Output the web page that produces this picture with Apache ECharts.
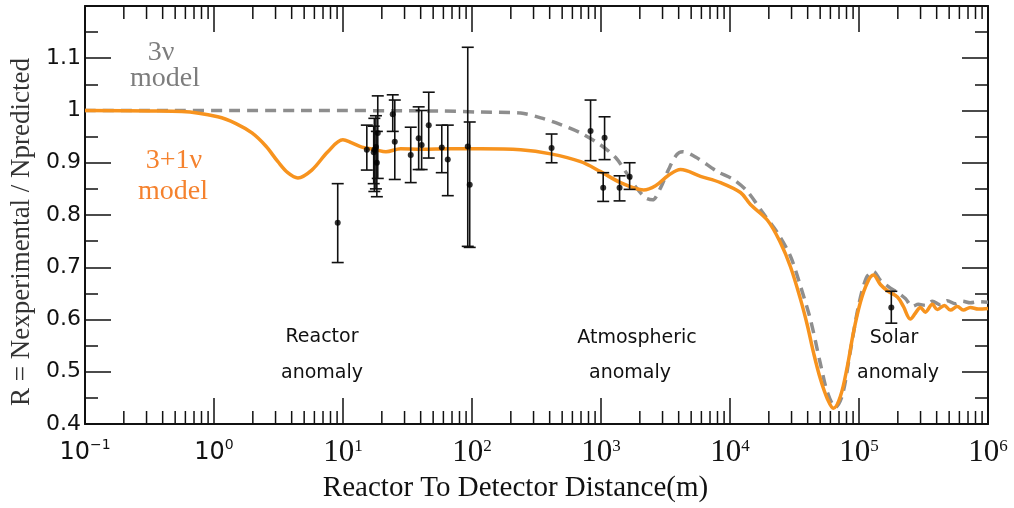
<!DOCTYPE html>
<html><head><meta charset="utf-8">
<script src="https://cdn.jsdelivr.net/npm/echarts@6/dist/echarts.min.js"></script>
<style>html,body{margin:0;padding:0;background:#fff}#c{width:1014px;height:508px}</style>
</head><body><div id="c"></div>
<script>
// 3+1 nu model curve (distance in m, ratio)
const distOrange = [0.1, 0.324, 0.564, 1.07, 1.48, 1.97, 2.52, 3.13, 3.73, 4.47, 5.73, 7.63, 9.97, 11.7, 14.0, 17.9, 21.5, 28.0, 40.1, 68.4, 117, 238, 407, 695, 993, 1418, 2138, 2649, 3339, 4136, 5907, 8442, 12060, 14410, 19520, 24620, 29420, 35170, 39850, 44360, 50240, 56910, 63350, 71770, 81310, 90500, 102500, 116200, 129300, 146500, 166000, 198400, 220800, 250100, 273500, 299000, 326900, 370300, 404900, 458700, 510500, 578400, 643800, 729400, 841100, 1000000];
const ratioOrange = [1.0, 0.999, 0.998, 0.988, 0.975, 0.957, 0.932, 0.902, 0.881, 0.871, 0.886, 0.921, 0.944, 0.938, 0.930, 0.925, 0.921, 0.927, 0.926, 0.927, 0.927, 0.925, 0.917, 0.902, 0.883, 0.862, 0.848, 0.856, 0.876, 0.887, 0.874, 0.862, 0.843, 0.820, 0.790, 0.747, 0.701, 0.639, 0.588, 0.537, 0.486, 0.448, 0.430, 0.453, 0.511, 0.575, 0.633, 0.671, 0.685, 0.667, 0.655, 0.643, 0.625, 0.601, 0.612, 0.623, 0.614, 0.629, 0.619, 0.627, 0.618, 0.625, 0.618, 0.623, 0.620, 0.621];
// 3 nu model curve
const distGray = [0.1, 4.71, 57.2, 117, 238, 341, 487, 695, 993, 1298, 1551, 1854, 2216, 2510, 2895, 3339, 3851, 4287, 5405, 8000, 10640, 13660, 17860, 23340, 29420, 35170, 42030, 50240, 57000, 65620, 74300, 85790, 98950, 114100, 129300, 146500, 175100, 198400, 228800, 259200, 288500, 326900, 370300, 427000, 483800, 558200, 632300, 729400, 841100, 1000000];
const ratioGray = [1.0, 1.0, 0.999, 0.997, 0.995, 0.986, 0.973, 0.957, 0.934, 0.910, 0.883, 0.854, 0.833, 0.829, 0.852, 0.887, 0.915, 0.921, 0.911, 0.883, 0.868, 0.845, 0.805, 0.766, 0.721, 0.664, 0.600, 0.515, 0.460, 0.432, 0.455, 0.540, 0.625, 0.680, 0.692, 0.675, 0.660, 0.652, 0.640, 0.625, 0.629, 0.627, 0.635, 0.628, 0.636, 0.630, 0.635, 0.632, 0.634, 0.633];
// measurements
const pointDist  = [9.1, 15.3, 17.3, 17.5, 18.0, 18.3, 18.6, 24.3, 25.2, 33.5, 38.6, 40.7, 46.2, 58.3, 64.9, 92.7, 96.0, 414, 830, 1066, 1040, 1393, 1667, 178000];
const pointRatio = [0.785, 0.925, 0.920, 0.925, 0.930, 0.900, 0.957, 0.993, 0.940, 0.915, 0.947, 0.934, 0.972, 0.929, 0.906, 0.931, 0.858, 0.928, 0.961, 0.948, 0.852, 0.852, 0.873, 0.623];
const pointLow   = [0.709, 0.886, 0.860, 0.845, 0.850, 0.835, 0.870, 0.960, 0.868, 0.862, 0.887, 0.887, 0.909, 0.881, 0.837, 0.740, 0.738, 0.900, 0.904, 0.906, 0.826, 0.827, 0.849, 0.593];
const pointHigh  = [0.860, 0.972, 0.970, 0.985, 0.990, 0.960, 1.028, 1.030, 1.020, 0.968, 1.007, 1.000, 1.035, 0.972, 0.972, 1.121, 0.978, 0.955, 1.020, 0.988, 0.881, 0.875, 0.900, 0.654];
const xDecades = [-1, 0, 1, 2, 3, 4, 5, 6];
const yMin = 0.4, yMax = 1.2, yStep = 0.1;

const minorTicks = [];
for (let i = 0; i < xDecades.length - 1; i++) {
  for (let m = 2; m <= 9; m++) minorTicks.push([m * Math.pow(10, xDecades[i]), yMin]);
}

const chart = echarts.init(document.getElementById('c'));
const tickStyle = {color: '#111', width: 1.5};
const xLabelRich = {
  s: {fontFamily: 'DejaVu Sans', fontSize: 24, color: '#111', lineHeight: 30},
  ss: {fontFamily: 'DejaVu Sans', fontSize: 14, color: '#111', verticalAlign: 'top', lineHeight: 14},
  b: {fontFamily: 'Liberation Serif', fontSize: 31, color: '#111', lineHeight: 30},
  bs: {fontFamily: 'Liberation Serif', fontSize: 17, color: '#111', verticalAlign: 'top', lineHeight: 14}
};
function xFmt(v) {
  const e = Math.round(Math.log10(v));
  if (e < 1) return '{s|10}{ss|' + (e < 0 ? '\u2212' + (-e) : e) + '}';
  return '{b|10}{bs|' + e + '}';
}
const baseX = {
  type: 'log', logBase: 10, min: 0.1, max: 1e6, interval: 1,
  axisLine: {lineStyle: {color: '#111', width: 2}},
  axisTick: {inside: true, length: 26, lineStyle: tickStyle},
  splitLine: {show: false}
};
const baseY = {
  type: 'value', min: yMin, max: yMax, interval: yStep,
  axisLine: {show: true, lineStyle: {color: '#111', width: 2}},
  axisTick: {inside: true, length: 26, lineStyle: tickStyle},
  minorTick: {show: true, splitNumber: 2, length: 13, lineStyle: tickStyle},
  splitLine: {show: false}
};

chart.setOption({
  animation: false,
  backgroundColor: '#fff',
  grid: {left: 84, right: 26, top: 6, bottom: 83, containLabel: false},
  xAxis: [
    Object.assign({}, baseX, {
      position: 'bottom',
      name: 'Reactor To Detector Distance(m)', nameLocation: 'middle', nameGap: 50,
      nameTextStyle: {fontFamily: 'Liberation Serif', fontSize: 29, color: '#111', padding: [0, 42, 0, 0]},
      axisLabel: {margin: 14, formatter: xFmt, rich: xLabelRich}
    }),
    Object.assign({}, baseX, {position: 'top', axisLabel: {show: false}})
  ],
  yAxis: [
    Object.assign({}, baseY, {
      position: 'left',
      name: 'R = Nexperimental / Npredicted', nameLocation: 'middle', nameGap: 50,
      nameTextStyle: {fontFamily: 'Liberation Serif', fontSize: 27, color: '#333', padding: [0, 34, 0, 0]},
      axisLabel: {margin: 4, fontFamily: 'DejaVu Sans', fontSize: 22, color: '#111',
        formatter: v => Math.abs(v - yMax) < 1e-6 ? '' : (Math.abs(v - 1) < 1e-6 ? '1' : v.toFixed(1))}
    }),
    Object.assign({}, baseY, {position: 'right', axisLabel: {show: false}})
  ],
  series: [
    {
      type: 'custom', name: 'minor ticks', xAxisIndex: 0, yAxisIndex: 0, silent: true, clip: false,
      data: minorTicks,
      renderItem: function (params, api) {
        const b = api.coord([api.value(0), yMin]);
        const t = api.coord([api.value(0), yMax]);
        return {type: 'group', children: [
          {type: 'line', shape: {x1: b[0], y1: b[1], x2: b[0], y2: b[1] - 13}, style: {stroke: '#111', lineWidth: 1.5}},
          {type: 'line', shape: {x1: t[0], y1: t[1], x2: t[0], y2: t[1] + 13}, style: {stroke: '#111', lineWidth: 1.5}}
        ]};
      }
    },
    {
      type: 'line', name: '3 nu model', showSymbol: false, smooth: 0.3, z: 2,
      data: distGray.map((d, i) => [d, ratioGray[i]]),
      lineStyle: {color: '#8e8e8e', width: 3.5, type: [11, 7]}
    },
    {
      type: 'line', name: '3+1 nu model', showSymbol: false, smooth: 0.35, z: 3,
      data: distOrange.map((d, i) => [d, ratioOrange[i]]),
      lineStyle: {color: '#f7931e', width: 3.5}
    },
    {
      type: 'custom', name: 'error bars', z: 4,
      data: pointDist.map((d, i) => [d, pointLow[i], pointHigh[i]]),
      renderItem: function (params, api) {
        const lo = api.coord([api.value(0), api.value(1)]);
        const hi = api.coord([api.value(0), api.value(2)]);
        const w = 6;
        const st = {stroke: '#111', lineWidth: 1.6};
        return {type: 'group', children: [
          {type: 'line', shape: {x1: lo[0], y1: lo[1], x2: hi[0], y2: hi[1]}, style: st},
          {type: 'line', shape: {x1: lo[0] - w, y1: lo[1], x2: lo[0] + w, y2: lo[1]}, style: st},
          {type: 'line', shape: {x1: hi[0] - w, y1: hi[1], x2: hi[0] + w, y2: hi[1]}, style: st}
        ]};
      }
    },
    {
      type: 'scatter', name: 'data', z: 5, symbolSize: 6,
      itemStyle: {color: '#000'},
      data: pointDist.map((d, i) => [d, pointRatio[i]])
    }
  ],
  graphic: [
    {type: 'text', x: 161, y: 53, style: {text: '3\u03bd', fontFamily: 'Liberation Serif', fontSize: 28, fill: '#7d7d7d', align: 'center', verticalAlign: 'middle'}},
    {type: 'text', x: 165, y: 79, style: {text: 'model', fontFamily: 'Liberation Serif', fontSize: 28, fill: '#7d7d7d', align: 'center', verticalAlign: 'middle'}},
    {type: 'text', x: 174, y: 161, style: {text: '3+1\u03bd', fontFamily: 'Liberation Serif', fontSize: 28, fill: '#f5822e', align: 'center', verticalAlign: 'middle'}},
    {type: 'text', x: 173, y: 192, style: {text: 'model', fontFamily: 'Liberation Serif', fontSize: 28, fill: '#f5822e', align: 'center', verticalAlign: 'middle'}},
    {type: 'text', x: 322, y: 337, style: {text: 'Reactor', fontFamily: 'DejaVu Sans', fontSize: 19, fill: '#111', align: 'center', verticalAlign: 'middle'}},
    {type: 'text', x: 322, y: 373, style: {text: 'anomaly', fontFamily: 'DejaVu Sans', fontSize: 19, fill: '#111', align: 'center', verticalAlign: 'middle'}},
    {type: 'text', x: 637, y: 338, style: {text: 'Atmospheric', fontFamily: 'DejaVu Sans', fontSize: 19, fill: '#111', align: 'center', verticalAlign: 'middle'}},
    {type: 'text', x: 630, y: 373, style: {text: 'anomaly', fontFamily: 'DejaVu Sans', fontSize: 19, fill: '#111', align: 'center', verticalAlign: 'middle'}},
    {type: 'text', x: 894, y: 338, style: {text: 'Solar', fontFamily: 'DejaVu Sans', fontSize: 19, fill: '#111', align: 'center', verticalAlign: 'middle'}},
    {type: 'text', x: 898, y: 373, style: {text: 'anomaly', fontFamily: 'DejaVu Sans', fontSize: 19, fill: '#111', align: 'center', verticalAlign: 'middle'}}
  ]
});
</script></body></html>
